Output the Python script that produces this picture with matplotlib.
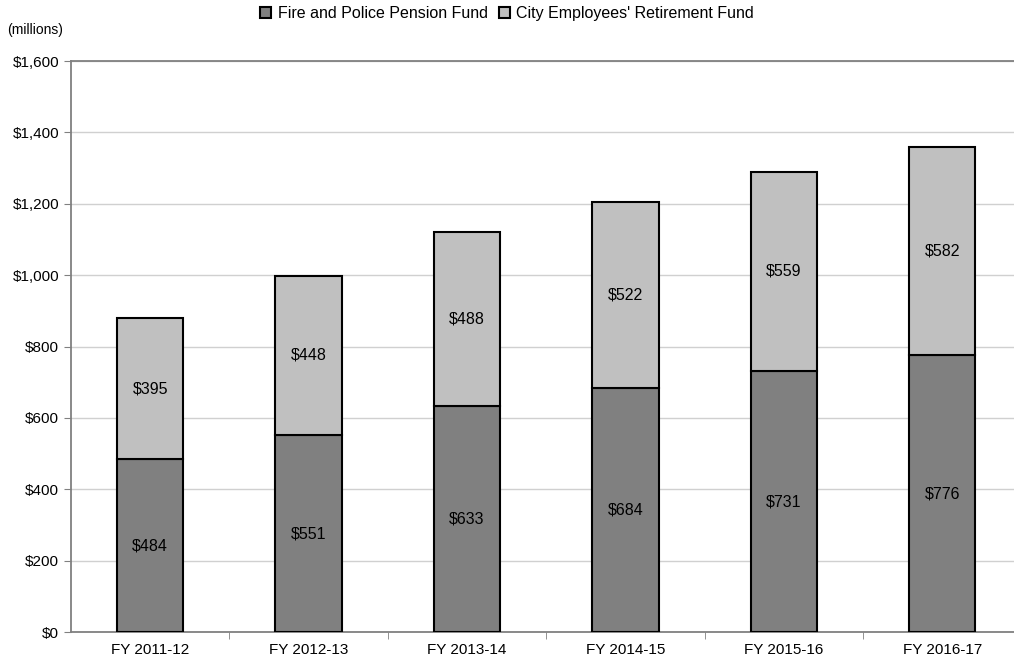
import numpy as np
import matplotlib.pyplot as plt

plt.rcParams['font.family'] = ['Liberation Sans', 'DejaVu Sans']

years = ['FY 2011-12', 'FY 2012-13', 'FY 2013-14', 'FY 2014-15', 'FY 2015-16', 'FY 2016-17']
fire_police = [484, 551, 633, 684, 731, 776]
city_employees = [395, 448, 488, 522, 559, 582]

fig = plt.figure(figsize=(10.14, 6.62), dpi=100)
ax = fig.add_axes([0.070, 0.0453, 0.930, 0.8625])

x = np.arange(len(years))
w = 0.42
b1 = ax.bar(x, fire_police, w, color='#808080', edgecolor='black', linewidth=1.5,
            label='Fire and Police Pension Fund', zorder=3)
b2 = ax.bar(x, city_employees, w, bottom=fire_police, color='#c0c0c0', edgecolor='black',
            linewidth=1.5, label="City Employees' Retirement Fund", zorder=3)

for i in range(len(years)):
    ax.text(x[i], fire_police[i] / 2, f'${fire_police[i]}', ha='center', va='center', fontsize=11.5)
    ax.text(x[i], fire_police[i] + city_employees[i] / 2, f'${city_employees[i]}',
            ha='center', va='center', fontsize=11.5)

ax.set_ylim(0, 1600)
ax.set_xlim(-0.5, -0.5 + 943 / 158.4)
ax.set_yticks(np.arange(0, 1601, 200))
ax.set_yticklabels([f'${v:,}' for v in range(0, 1601, 200)], fontsize=11)
ax.yaxis.grid(True, color='#d0d0d0', linewidth=1, zorder=0)
ax.set_axisbelow(True)

ax.set_xticks(x)
ax.set_xticklabels(years, fontsize=11)
ax.tick_params(axis='x', length=0, pad=8)
ax.set_xticks(np.arange(0.5, 5.5, 1), minor=True)
ax.tick_params(axis='x', which='minor', length=5, color='#808080')
ax.tick_params(axis='y', length=5, color='#808080', direction='out')

ax.spines['right'].set_visible(False)
for side in ['left', 'bottom', 'top']:
    ax.spines[side].set_color('#808080')
    ax.spines[side].set_linewidth(1.3)

fig.text(0.007, 0.955, '(millions)', fontsize=10, va='center')

fig.legend(handles=[b1, b2], loc='center', bbox_to_anchor=(0.5, 0.98), ncol=2, frameon=False,
           fontsize=11.5, handlelength=0.7, handleheight=0.7, handletextpad=0.4, columnspacing=0.7)

fig.savefig('out.png', dpi=100)
